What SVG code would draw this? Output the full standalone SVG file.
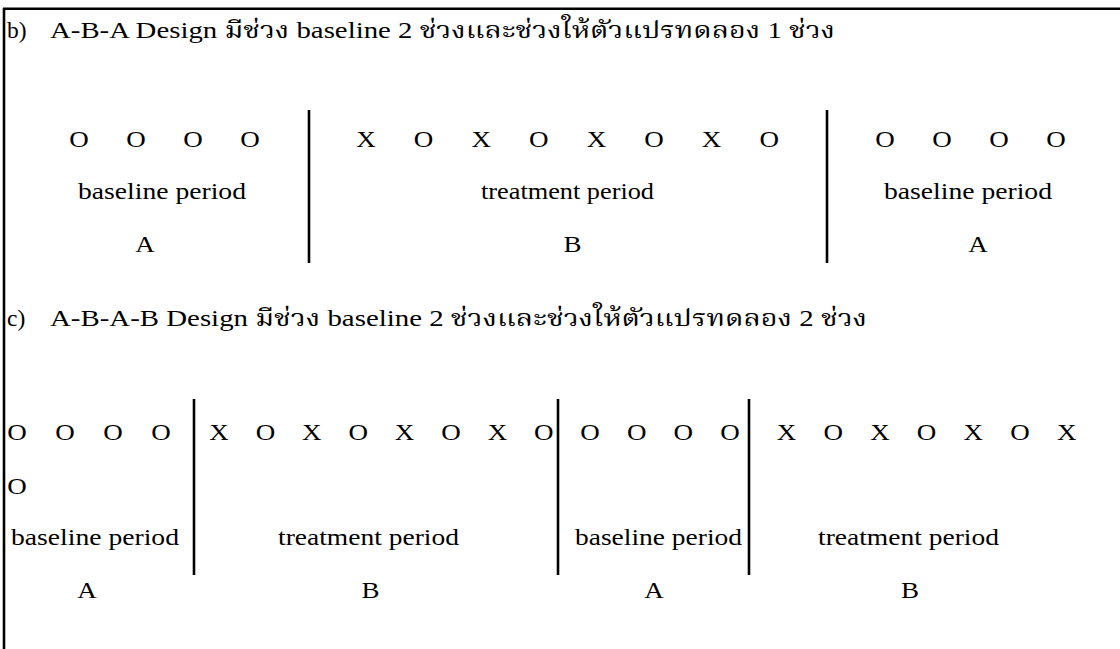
<svg xmlns="http://www.w3.org/2000/svg" width="1120" height="649" viewBox="0 0 1120 649">
<style>
text{font-family:"Liberation Serif","Times New Roman","Noto Serif Thai","DejaVu Serif",serif;font-size:23.5px;fill:#000}
.m{text-anchor:middle}
.ln{stroke:#000;stroke-width:2.6;fill:none}
</style>
<rect width="1120" height="649" fill="#fff"/>
<g id="frame">
<line class="ln" x1="3" y1="8.8" x2="1120" y2="8.8"/>
<line class="ln" x1="4" y1="8" x2="4" y2="649"/>
</g>
<g id="title-b">
<text x="7" y="37.5">b)</text>
<text x="50" y="37.5" textLength="785" lengthAdjust="spacingAndGlyphs">A-B-A Design มีช่วง baseline 2 ช่วงและช่วงให้ตัวแปรทดลอง 1 ช่วง</text>
</g>
<g id="b-baseline-1">
<text class="m" transform="scale(1.15 1)" x="68.70 93.48 118.26 143.04 167.83 192.61 217.39" y="147">O O O O</text>
<text x="78" y="199" textLength="168" lengthAdjust="spacingAndGlyphs">baseline period</text>
<text class="m" transform="scale(1.15 1)" x="126.09" y="252">A</text>
</g>
<g id="b-treatment">
<text class="m" transform="scale(1.15 1)" x="318.26 343.30 368.35 393.39 418.43 443.48 468.52 493.57 518.61 543.65 568.70 593.74 618.78 643.83 668.87" y="147">X O X O X O X O</text>
<text x="481" y="199" textLength="173" lengthAdjust="spacingAndGlyphs">treatment period</text>
<text class="m" transform="scale(1.15 1)" x="497.83" y="252">B</text>
</g>
<g id="b-baseline-2">
<text class="m" transform="scale(1.15 1)" x="769.57 794.35 819.13 843.91 868.70 893.48 918.26" y="147">O O O O</text>
<text x="884" y="199" textLength="168" lengthAdjust="spacingAndGlyphs">baseline period</text>
<text class="m" transform="scale(1.15 1)" x="850.43" y="252">A</text>
</g>
<g id="title-c">
<text x="7" y="326">c)</text>
<text x="50" y="326" textLength="817" lengthAdjust="spacingAndGlyphs">A-B-A-B Design มีช่วง baseline 2 ช่วงและช่วงให้ตัวแปรทดลอง 2 ช่วง</text>
</g>
<g id="c-baseline-1">
<text class="m" transform="scale(1.15 1)" x="14.78 35.65 56.52 77.39 98.26 119.13 140.0" y="440">O O O O</text>
<text class="m" transform="scale(1.15 1)" x="14.78" y="494">O</text>
<text x="11" y="545" textLength="168" lengthAdjust="spacingAndGlyphs">baseline period</text>
<text class="m" transform="scale(1.15 1)" x="75.65" y="598">A</text>
</g>
<g id="c-treatment-1">
<text class="m" transform="scale(1.15 1)" x="190.43 210.61 230.78 250.96 271.13 291.30 311.48 331.65 351.83 372.0 392.17 412.35 432.52 452.70 472.87" y="440">X O X O X O X O</text>
<text x="278" y="545" textLength="181" lengthAdjust="spacingAndGlyphs">treatment period</text>
<text class="m" transform="scale(1.15 1)" x="322.17" y="598">B</text>
</g>
<g id="c-baseline-2">
<text class="m" transform="scale(1.15 1)" x="513.04 533.30 553.65 573.91 594.17 614.52 634.78" y="440">O O O O</text>
<text x="575" y="545" textLength="167" lengthAdjust="spacingAndGlyphs">baseline period</text>
<text class="m" transform="scale(1.15 1)" x="568.70" y="598">A</text>
</g>
<g id="c-treatment-2">
<text class="m" transform="scale(1.15 1)" x="683.91 704.17 724.52 744.78 765.13 785.39 805.74 826.09 846.35 866.61 886.96 907.22 927.57" y="440">X O X O X O X</text>
<text x="818" y="545" textLength="181" lengthAdjust="spacingAndGlyphs">treatment period</text>
<text class="m" transform="scale(1.15 1)" x="791.30" y="598">B</text>
</g>
<g id="connectors">
<line class="ln" x1="309" y1="110" x2="309" y2="263"/>
<line class="ln" x1="827" y1="110" x2="827" y2="263"/>
<line class="ln" x1="194" y1="399" x2="194" y2="575"/>
<line class="ln" x1="558" y1="399" x2="558" y2="575"/>
<line class="ln" x1="749" y1="399" x2="749" y2="575"/>
</g>
</svg>
